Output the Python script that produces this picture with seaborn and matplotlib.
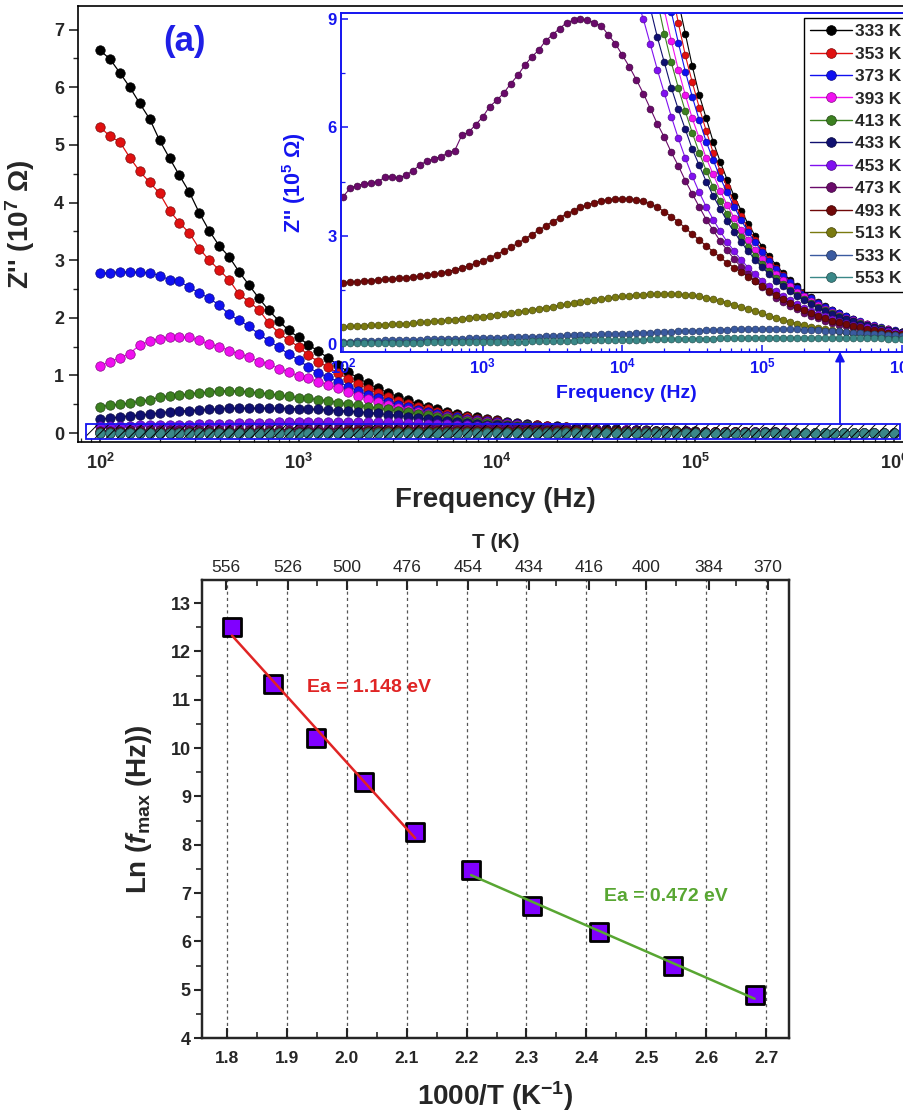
import numpy as np
import pandas as pd
import matplotlib
matplotlib.use("Agg")
import matplotlib.pyplot as plt
import seaborn as sns
from matplotlib.patches import Rectangle
from matplotlib.lines import Line2D
from matplotlib.ticker import MultipleLocator, LogLocator, NullFormatter, FuncFormatter, FormatStrFormatter

sns.set_style("ticks")
plt.rcParams["font.family"] = ["Liberation Sans", "DejaVu Sans"]
plt.rcParams["font.weight"] = "bold"
plt.rcParams["axes.labelweight"] = "bold"
plt.rcParams["mathtext.fontset"] = "custom"
plt.rcParams["mathtext.rm"] = "Liberation Sans:bold"
plt.rcParams["mathtext.it"] = "Liberation Sans:italic:bold"
plt.rcParams["mathtext.bf"] = "Liberation Sans:bold"
plt.rcParams["hatch.linewidth"] = 0.7

BLUE = "#1414F0"

# ---- (a) Z'' spectra, values in 10^5 Ohm ----
# instrument sweep: 100 Hz .. 1 MHz, 20 points per decade
freq = np.logspace(2, 6, 81)
temps = [333, 353, 373, 393, 413, 433, 453, 473, 493, 513, 533, 553]

z_333 = [664, 649, 625, 600, 572, 545, 508, 477, 447, 418,
         382, 351, 325, 306, 280, 257, 234, 213, 195, 178,
         166, 153, 142, 130, 118, 106, 95.5, 86, 77.5, 70,
         63, 56.5, 51, 46, 41.3, 37.2, 33.5, 30.2, 27.2, 24.5,
         22, 19.8, 17.8, 16.1, 14.5, 13.0, 11.7, 10.6, 9.5, 8.6,
         7.7, 6.9, 6.25, 5.6, 5.05, 4.55, 4.1, 3.7, 3.33, 3.0,
         2.7, 2.43, 2.19, 1.97, 1.77, 1.6, 1.44, 1.3, 1.17, 1.05,
         0.95, 0.86, 0.77, 0.69, 0.62, 0.56, 0.5, 0.45, 0.41, 0.37, 0.33]
z_353 = [531, 515, 505, 478, 454, 435, 416, 386, 365, 347,
         320, 300, 283, 266, 241, 228, 214, 191, 174, 161,
         150, 135, 124, 114, 104, 94, 84.8, 76.5, 69, 62.3,
         56.2, 50.7, 45.8, 41.3, 37.3, 33.7, 30.4, 27.4, 24.8, 22.4,
         20.2, 18.2, 16.4, 14.8, 13.4, 12.1, 10.9, 9.85, 8.9, 8.0,
         7.25, 6.55, 5.9, 5.3, 4.8, 4.35, 3.92, 3.54, 3.2, 2.88,
         2.6, 2.35, 2.12, 1.91, 1.72, 1.56, 1.41, 1.27, 1.15, 1.04,
         0.94, 0.85, 0.76, 0.69, 0.62, 0.56, 0.5, 0.45, 0.41, 0.37, 0.33]
z_373 = [277, 278, 280, 279, 279, 278, 273, 266, 263, 253,
         243, 234, 222, 206, 196, 185, 172, 160, 149, 137,
         127, 114, 104, 97, 89, 80.6, 73, 66, 60, 54.3,
         49.2, 44.6, 40.4, 36.6, 33.2, 30.1, 27.3, 24.7, 22.4, 20.3,
         18.4, 16.7, 15.1, 13.7, 12.4, 11.2, 10.2, 9.2, 8.35, 7.55,
         6.85, 6.2, 5.6, 5.1, 4.6, 4.2, 3.8, 3.43, 3.1, 2.82,
         2.55, 2.3, 2.08, 1.89, 1.71, 1.55, 1.4, 1.27, 1.15, 1.04,
         0.94, 0.85, 0.77, 0.7, 0.63, 0.57, 0.52, 0.47, 0.42, 0.38, 0.34]
z_393 = [116, 124, 130, 138, 153, 159, 164, 166, 166, 166,
         161, 154, 150, 143, 137, 132, 124, 120, 112, 106,
         99, 95, 89, 84, 78, 72, 65, 59, 53.5, 48.5,
         44, 39.9, 36.2, 32.8, 29.8, 27, 24.5, 22.2, 20.2, 18.3,
         16.6, 15.1, 13.7, 12.4, 11.2, 10.2, 9.25, 8.4, 7.6, 6.9,
         6.25, 5.7, 5.15, 4.7, 4.25, 3.85, 3.5, 3.17, 2.88, 2.61,
         2.37, 2.15, 1.95, 1.77, 1.6, 1.45, 1.32, 1.2, 1.08, 0.98,
         0.89, 0.81, 0.73, 0.66, 0.6, 0.55, 0.5, 0.45, 0.41, 0.37, 0.33]
z_413 = [46, 48, 50, 52, 55, 58, 62, 65, 66, 68,
         70, 71, 73, 73, 73, 71, 70, 68, 66, 64,
         61, 60, 58, 56, 53, 50.5, 48, 46, 43.5, 41,
         38.5, 36, 33.5, 31, 28.5, 26, 23.7, 21.5, 19.5, 17.6,
         15.8, 14.2, 12.8, 11.5, 10.4, 9.5, 8.6, 7.8, 7.1, 6.45,
         5.85, 5.3, 4.8, 4.35, 3.95, 3.6, 3.27, 2.97, 2.7, 2.45,
         2.22, 2.02, 1.83, 1.66, 1.51, 1.37, 1.25, 1.13, 1.03, 0.94,
         0.85, 0.77, 0.7, 0.64, 0.58, 0.53, 0.48, 0.44, 0.4, 0.36, 0.33]
z_433 = [24, 26, 28, 30, 31, 33, 35, 37, 38, 39,
         40, 41, 42, 43, 43, 43, 43, 43, 43, 42.5,
         42, 41.5, 41, 40, 39, 38, 37, 35.5, 34, 32,
         30.5, 28.5, 26.7, 24.8, 23, 21.2, 19.5, 17.8, 16.2, 14.8,
         13.4, 12.2, 11.1, 10.1, 9.3, 8.5, 7.8, 7.1, 6.5, 5.95,
         5.4, 4.95, 4.5, 4.1, 3.75, 3.4, 3.1, 2.83, 2.57, 2.34,
         2.13, 1.94, 1.76, 1.6, 1.46, 1.33, 1.21, 1.1, 1.0, 0.91,
         0.83, 0.76, 0.69, 0.63, 0.57, 0.52, 0.47, 0.43, 0.39, 0.36, 0.33]
z_453 = [12, 12.3, 12.6, 12.9, 13.2, 13.5, 13.8, 14.1, 14.4, 14.8,
         15.1, 15.5, 15.9, 16.3, 16.7, 17.1, 17.5, 17.9, 18.3, 18.6,
         18.9, 19.2, 19.4, 19.6, 19.7, 19.8, 19.7, 19.5, 19.2, 18.8,
         18.3, 17.7, 17.0, 16.3, 15.6, 14.9, 14.2, 13.4, 12.6, 11.8,
         11.0, 10.3, 9.6, 9.0, 8.3, 7.6, 6.95, 6.3, 5.7, 5.15,
         4.65, 4.2, 3.8, 3.45, 3.12, 2.83, 2.57, 2.33, 2.12, 1.93,
         1.76, 1.6, 1.46, 1.33, 1.21, 1.1, 1.0, 0.92, 0.84, 0.77,
         0.7, 0.64, 0.59, 0.54, 0.5, 0.46, 0.42, 0.39, 0.36, 0.33, 0.31]
z_473 = [4.08, 4.31, 4.39, 4.44, 4.46, 4.50, 4.62, 4.64, 4.59, 4.69,
         4.79, 4.97, 5.06, 5.13, 5.19, 5.29, 5.36, 5.78, 5.87, 6.08,
         6.29, 6.58, 6.75, 6.95, 7.21, 7.44, 7.72, 7.95, 8.14, 8.40,
         8.57, 8.74, 8.90, 8.97, 9.0, 8.97, 8.90, 8.81, 8.56, 8.32,
         8.0, 7.68, 7.32, 6.94, 6.52, 6.10, 5.73, 5.31, 4.94, 4.53,
         4.16, 3.8, 3.45, 3.15, 2.85, 2.6, 2.35, 2.13, 1.93, 1.75,
         1.58, 1.43, 1.29, 1.17, 1.06, 0.96, 0.87, 0.79, 0.72, 0.65,
         0.59, 0.54, 0.49, 0.45, 0.41, 0.38, 0.35, 0.32, 0.3, 0.28, 0.26]
z_493 = [1.70, 1.72, 1.73, 1.75, 1.76, 1.78, 1.79, 1.81, 1.82, 1.84,
         1.86, 1.88, 1.91, 1.94, 1.97, 2.01, 2.06, 2.11, 2.17, 2.24,
         2.31, 2.39, 2.48, 2.58, 2.68, 2.79, 2.91, 3.03, 3.15, 3.27,
         3.39, 3.50, 3.60, 3.70, 3.79, 3.86, 3.92, 3.97, 4.00, 4.02,
         4.03, 4.02, 4.0, 3.95, 3.88, 3.79, 3.67, 3.53, 3.38, 3.22,
         3.04, 2.88, 2.72, 2.56, 2.40, 2.25, 2.12, 2.0, 1.87, 1.74,
         1.60, 1.47, 1.35, 1.24, 1.13, 1.03, 0.94, 0.86, 0.78, 0.71,
         0.65, 0.6, 0.55, 0.5, 0.46, 0.42, 0.38, 0.35, 0.32, 0.29, 0.27]
z_513 = [0.48, 0.49, 0.50, 0.51, 0.52, 0.53, 0.54, 0.55, 0.56, 0.57,
         0.58, 0.60, 0.61, 0.63, 0.64, 0.66, 0.68, 0.70, 0.72, 0.74,
         0.76, 0.79, 0.81, 0.84, 0.86, 0.89, 0.92, 0.95, 0.98, 1.01,
         1.04, 1.07, 1.10, 1.13, 1.16, 1.19, 1.22, 1.25, 1.28, 1.30,
         1.32, 1.34, 1.36, 1.37, 1.38, 1.39, 1.39, 1.39, 1.38, 1.37,
         1.35, 1.32, 1.29, 1.25, 1.20, 1.15, 1.09, 1.03, 0.97, 0.91,
         0.85, 0.79, 0.73, 0.67, 0.62, 0.57, 0.52, 0.48, 0.45, 0.42,
         0.39, 0.36, 0.34, 0.32, 0.30, 0.28, 0.27, 0.26, 0.25, 0.24, 0.23]
z_533 = [0.07, 0.07, 0.08, 0.08, 0.09, 0.09, 0.10, 0.10, 0.11, 0.11,
         0.12, 0.12, 0.13, 0.13, 0.14, 0.14, 0.15, 0.15, 0.16, 0.16,
         0.17, 0.17, 0.18, 0.18, 0.19, 0.20, 0.20, 0.21, 0.21, 0.22,
         0.22, 0.23, 0.24, 0.24, 0.25, 0.25, 0.26, 0.27, 0.27, 0.28,
         0.29, 0.29, 0.30, 0.31, 0.32, 0.33, 0.33, 0.34, 0.35, 0.36,
         0.37, 0.37, 0.38, 0.39, 0.40, 0.40, 0.41, 0.41, 0.42, 0.42,
         0.42, 0.42, 0.42, 0.42, 0.41, 0.41, 0.40, 0.39, 0.38, 0.37,
         0.36, 0.35, 0.33, 0.32, 0.31, 0.29, 0.28, 0.27, 0.25, 0.24, 0.23]
z_553 = [0.03, 0.03, 0.03, 0.03, 0.03, 0.04, 0.04, 0.04, 0.04, 0.04,
         0.04, 0.04, 0.05, 0.05, 0.05, 0.05, 0.05, 0.05, 0.06, 0.06,
         0.06, 0.06, 0.06, 0.07, 0.07, 0.07, 0.07, 0.08, 0.08, 0.08,
         0.08, 0.09, 0.09, 0.09, 0.10, 0.10, 0.10, 0.10, 0.11, 0.11,
         0.11, 0.12, 0.12, 0.12, 0.13, 0.13, 0.13, 0.14, 0.14, 0.14,
         0.15, 0.15, 0.15, 0.15, 0.16, 0.16, 0.16, 0.16, 0.16, 0.17,
         0.17, 0.17, 0.17, 0.17, 0.17, 0.17, 0.17, 0.17, 0.17, 0.17,
         0.17, 0.17, 0.17, 0.16, 0.16, 0.16, 0.16, 0.16, 0.15, 0.15, 0.15]

curves = [z_333, z_353, z_373, z_393, z_413, z_433,
          z_453, z_473, z_493, z_513, z_533, z_553]

colors = ["#000000", "#E01010", "#1010F0", "#F010F0", "#3C8020", "#101070",
          "#8010F0", "#6A0A6A", "#700808", "#7A7A10", "#3A5AA0", "#3A8888"]

# ---- (b) Arrhenius plot ----
T_peak = [553, 533, 513, 493, 473, 453, 433, 413, 393, 373]
ln_fmax = [12.50, 11.32, 10.20, 9.29, 8.26, 7.47, 6.73, 6.19, 5.50, 4.88]
T_top = [556, 526, 500, 476, 454, 434, 416, 400, 384, 370]

rows = []
for T, z in zip(temps, curves):
    for f, v in zip(freq, z):
        rows.append({"T": T, "freq": f, "z5": v, "z7": v / 100})
df = pd.DataFrame(rows)


def darker(c, k=0.55):
    rgb = np.array(matplotlib.colors.to_rgb(c))
    return tuple(rgb * k)


fig = plt.figure(figsize=(9.04, 11.14), dpi=100)

# main panel
ax = fig.add_axes([0.0863, 0.6032, 0.9226, 0.3914])
for T, c in zip(temps, colors):
    sub = df[df["T"] == T]
    sns.lineplot(data=sub, x="freq", y="z7", ax=ax, color=c, lw=0.9,
                 marker="o", markersize=6.8, markeredgecolor=darker(c),
                 markeredgewidth=0.5, estimator=None, legend=False)
ax.set_xscale("log")
ax.set_xlim(10 ** 1.889, 10 ** 6.091)
ax.set_ylim(-0.156, 7.41)
ax.yaxis.set_major_locator(MultipleLocator(1))
ax.yaxis.set_minor_locator(MultipleLocator(0.5))
ax.xaxis.set_major_locator(LogLocator(base=10))
ax.xaxis.set_minor_locator(LogLocator(base=10, subs=np.arange(2, 10)))
ax.xaxis.set_minor_formatter(NullFormatter())
ax.xaxis.set_major_formatter(FuncFormatter(lambda v, p: r"$10^{%d}$" % round(np.log10(v))))
ax.tick_params(axis="y", which="major", direction="out", length=6.5, width=1.2, labelsize=13)
ax.tick_params(axis="y", which="minor", direction="out", length=3.5, width=1.0)
ax.tick_params(axis="x", which="major", direction="in", length=6, width=1.2, labelsize=13, pad=8)
ax.tick_params(axis="x", which="minor", direction="in", length=3, width=0.9)
for s in ax.spines.values():
    s.set_linewidth(1.2)
    s.set_color("black")
ax.set_xlabel("Frequency (Hz)", fontsize=20, labelpad=10)
ax.set_ylabel("Z'' (10$^{7}$ Ω)", fontsize=20, labelpad=12)
ax.text(0.128, 0.918, "(a)", transform=ax.transAxes, color="#1F1FE6",
        fontsize=25, fontweight="bold", ha="center", va="center")

# zoom box + arrow
bx0, bx1 = 10 ** 1.93, 10 ** 6.03
ax.add_patch(Rectangle((bx0, -0.104), bx1 - bx0, 0.26, facecolor="none",
                       edgecolor="black", hatch="///", lw=0, zorder=5))
ax.add_patch(Rectangle((bx0, -0.104), bx1 - bx0, 0.26, facecolor="none",
                       edgecolor=BLUE, lw=1.3, zorder=6))
ax.annotate("", xy=(10 ** 5.728, 1.41), xytext=(10 ** 5.728, 0.156),
            arrowprops=dict(arrowstyle="-|>", color=BLUE, lw=1.3,
                            mutation_scale=14, shrinkA=0, shrinkB=0))

# inset
axin = fig.add_axes([0.3772, 0.6840, 0.6316, 0.3043])
axin.set_facecolor("white")
for T, c in zip(temps, colors):
    sub = df[df["T"] == T]
    sns.lineplot(data=sub, x="freq", y="z5", ax=axin, color=c, lw=0.8,
                 marker="o", markersize=5.0, markeredgecolor=darker(c),
                 markeredgewidth=0.4, estimator=None, legend=False)
axin.set_xscale("log")
axin.set_xlim(10 ** 1.986, 10 ** 6.072)
axin.set_ylim(-0.22, 9.17)
axin.yaxis.set_major_locator(MultipleLocator(3))
axin.yaxis.set_minor_locator(MultipleLocator(1.5))
axin.xaxis.set_major_locator(LogLocator(base=10))
axin.xaxis.set_minor_locator(LogLocator(base=10, subs=np.arange(2, 10)))
axin.xaxis.set_minor_formatter(NullFormatter())
axin.xaxis.set_major_formatter(FuncFormatter(lambda v, p: r"$10^{%d}$" % round(np.log10(v))))
axin.tick_params(which="both", direction="in", color=BLUE, labelcolor=BLUE, labelsize=12)
axin.tick_params(which="major", length=5, width=1.1)
axin.tick_params(which="minor", length=3, width=0.9)
axin.tick_params(axis="y", pad=3)
for s in axin.spines.values():
    s.set_color(BLUE)
    s.set_linewidth(1.4)
axin.set_xlabel("Frequency (Hz)", fontsize=14, color=BLUE, labelpad=6)
axin.set_ylabel("Z'' (10$^{5}$ Ω)", fontsize=15.5, color=BLUE, labelpad=14)

# legend
handles = [Line2D([], [], color=c, lw=1.0, marker="o", markersize=7,
                  markeredgecolor=darker(c), markeredgewidth=0.5) for c in colors]
labels = [f"{T} K" for T in temps]
leg = fig.legend(handles, labels, loc="upper left",
                 bbox_to_anchor=(804 / 904, 1 - 18 / 1114),
                 prop={"weight": "bold", "size": 12.5}, handlelength=2.4,
                 handletextpad=0.2, labelspacing=0.42, borderpad=0.35,
                 borderaxespad=0, fancybox=False, framealpha=1,
                 edgecolor="black")
leg.get_frame().set_linewidth(1.0)

# ---- lower panel ----
inv_T = [1000 / t for t in T_peak]
ax2 = fig.add_axes([0.2235, 0.0682, 0.6493, 0.4111])
sns.regplot(x=inv_T[:5], y=ln_fmax[:5], ax=ax2, scatter=False, ci=None,
            color="#E02424", line_kws={"lw": 1.8, "zorder": 4})
sns.regplot(x=inv_T[5:], y=ln_fmax[5:], ax=ax2, scatter=False, ci=None,
            color="#58A632", line_kws={"lw": 1.8, "zorder": 4})
sns.scatterplot(x=inv_T, y=ln_fmax, ax=ax2, marker="s", s=185,
                color="#8000FF", edgecolor="black", linewidth=2.0, zorder=3)
ax2.set_xlim(1.7583, 2.7384)
ax2.set_ylim(4, 13.476)
ax2.xaxis.set_major_locator(MultipleLocator(0.1))
ax2.xaxis.set_minor_locator(MultipleLocator(0.05))
ax2.xaxis.set_major_formatter(FormatStrFormatter("%.1f"))
ax2.yaxis.set_major_locator(MultipleLocator(1))
ax2.yaxis.set_minor_locator(MultipleLocator(0.5))
ax2.tick_params(axis="x", which="major", direction="in", length=7, width=1.5, labelsize=12.5, pad=9)
ax2.tick_params(axis="x", which="minor", direction="in", length=4, width=1.2)
ax2.tick_params(axis="y", which="major", direction="out", length=6, width=1.5, labelsize=13, pad=2)
ax2.tick_params(axis="y", which="minor", direction="out", length=4, width=1.2)
ax2.grid(axis="x", which="major", linestyle=(0, (2.5, 2.5)), color="#555555", lw=0.9)
for s in ax2.spines.values():
    s.set_linewidth(1.6)
    s.set_color("black")
ax2.set_xlabel("1000/T (K$^{-1}$)", fontsize=20, labelpad=10)
ax2.set_ylabel("Ln ($f_{\\mathrm{max}}$ (Hz))", fontsize=20, labelpad=12)
ax2.text(1.934, 11.26, "Ea = 1.148 eV", color="#E02424", fontsize=14,
         fontweight="bold", ha="left", va="center")
ax2.text(2.429, 6.92, "Ea = 0.472 eV", color="#58A632", fontsize=14,
         fontweight="bold", ha="left", va="center")

ax3 = ax2.twiny()
ax3.set_xlim(ax2.get_xlim())
ax3.set_xticks([1000 / t for t in T_top])
ax3.set_xticklabels([str(t) for t in T_top], fontweight="normal")
ax3.xaxis.set_minor_locator(MultipleLocator(0.1, offset=0.05))
ax3.tick_params(axis="x", which="major", direction="in", length=7, width=1.5, labelsize=12.5, pad=4)
ax3.tick_params(axis="x", which="minor", direction="in", length=4, width=1.2)
for s in ax3.spines.values():
    s.set_linewidth(1.6)
ax3.set_xlabel("T (K)", fontsize=15, labelpad=8)

fig.savefig("out.png", dpi=100)
